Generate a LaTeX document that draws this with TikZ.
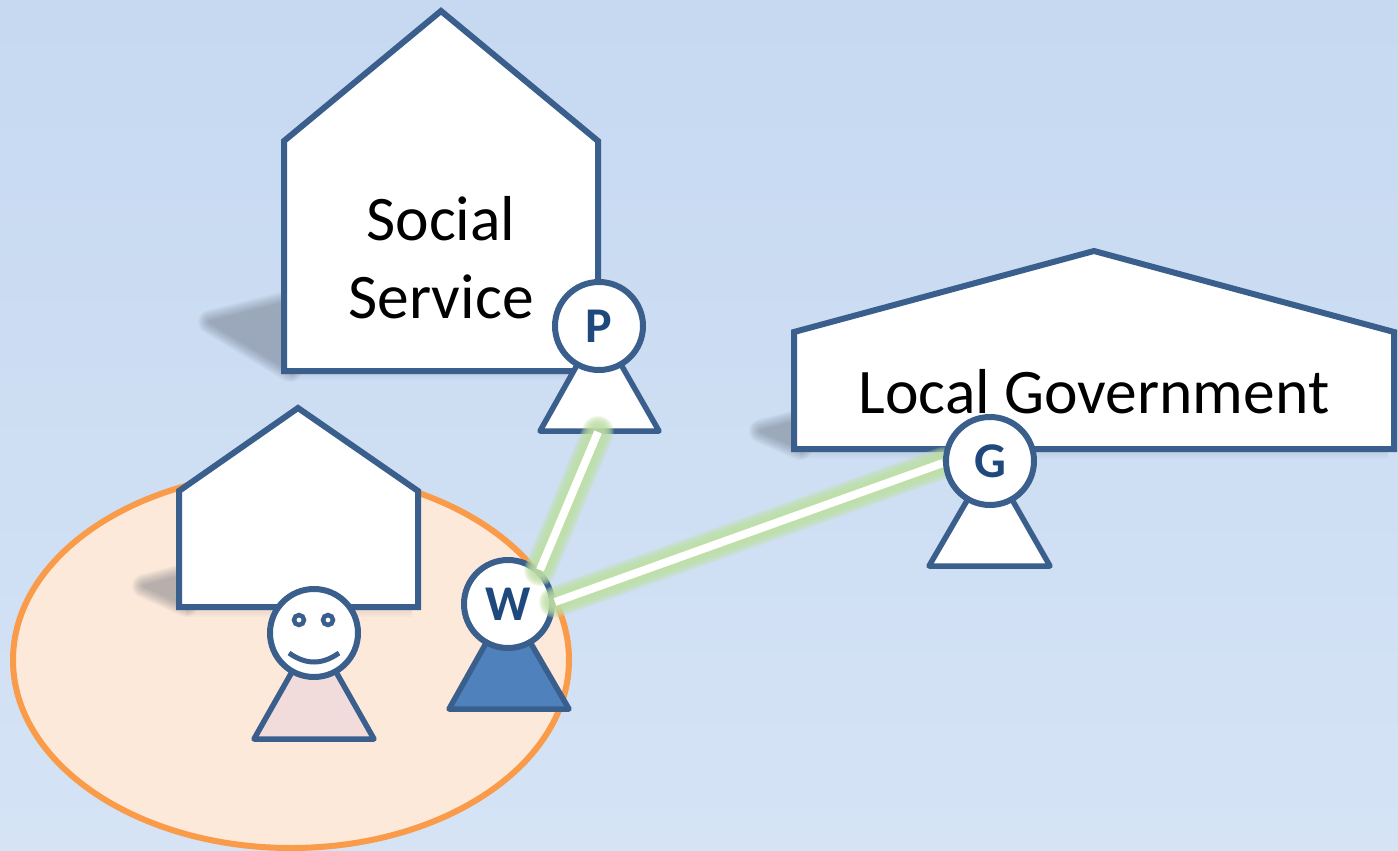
\documentclass[tikz,border=0pt]{standalone}
\usepackage{fontspec}
\usetikzlibrary{shapes.geometric}
\setmainfont{Carlito}
\definecolor{edge}{HTML}{3A5F8C}
\definecolor{ink}{HTML}{1F497D}
\definecolor{orangeedge}{HTML}{F99B48}
\definecolor{orangefill}{HTML}{FDE9DA}
\definecolor{glow}{HTML}{BEDFA4}
\definecolor{bgtop}{HTML}{C6D9F1}
\definecolor{bgbot}{HTML}{D5E3F5}
\definecolor{bodypink}{HTML}{F2DCDB}
\definecolor{bluebody}{HTML}{4F81BD}
\definecolor{shadowtone}{HTML}{606978}
\tikzset{
  house/.style={draw=edge,line width=6pt,fill=white,miter limit=10},
  body/.style={draw=edge,line width=5.5pt,line join=round,fill=white},
  head/.style={circle,draw=edge,line width=6pt,fill=white,minimum size=88pt,inner sep=0pt,
    text=ink,font=\fontsize{50}{50}\selectfont\bfseries},
  label/.style={align=center,text=black,inner sep=0pt,font=\fontsize{63.5}{78}\selectfont},
  glowline/.style={draw=glow,line cap=round},
  link/.style={draw=white,line width=8pt}
}
\newcommand{\softshadow}[1]{%
  \foreach \w in {24,22,20,18,16,14,12,10,8,6,4,2}{%
    \begin{scope}[transparency group,opacity=0.042]
    \path[fill=shadowtone,draw=shadowtone,line width=\w pt,line join=round] #1;
    \end{scope}}}
\newcommand{\softedge}[1]{%
  \foreach \w in {24,20,16,12,8}{%
    \draw[draw=shadowtone,opacity=0.03,line width=\w pt] #1;}}
\begin{document}
\begin{tikzpicture}[x=1pt,y=-1pt]
\useasboundingbox (0,0) rectangle (1398,851);
\path[top color=bgtop,bottom color=bgbot] (0,0) rectangle (1398,851);

% social service
\softshadow{(210,322) -- (290,302) -- (290,370) -- cycle}
\softedge{(290,368) -- (590,368)}
\draw[house] (284,371) -- (284,141) -- (441,11) -- (598,141) -- (598,371) -- cycle;
\node[label] (social) at (441,258) {Social\\Service};

% local government
\softshadow{(761,431) -- (800,421) -- (800,448) -- cycle}
\softedge{(800,447) -- (1388,447)}
\draw[house] (794,449) -- (794,332) -- (1094,251) -- (1394,332) -- (1394,449) -- cycle;
\node[label] (gov) at (1094,392) {Local Government};

% client's home
\node[draw=orangeedge,line width=6pt,fill=orangefill,ellipse,minimum width=556pt,minimum height=376pt,inner sep=0pt] (area) at (291,660) {};
\softshadow{(144,586) -- (186,575) -- (186,605) -- cycle}
\softedge{(186,605) -- (412,605)}
\draw[house] (179,607) -- (179,491) -- (298,408) -- (418,491) -- (418,607) -- cycle;

% persons
\draw[body] (599,326) -- (659,431) -- (540,431) -- cycle;
\node[head] (P) at (599,326) {P};
\draw[body,fill=bodypink] (314,633) -- (374,739) -- (254,739) -- cycle;
\node[head] (C) at (314,633) {};
\fill[white,draw=edge,line width=4.5pt] (299,620) circle (5pt);
\fill[white,draw=edge,line width=4.5pt] (328,620) circle (5pt);
\draw[edge,line width=5pt] (289,653) .. controls (306,665) and (322,665) .. (339,653);
\draw[body,fill=bluebody] (508,604) -- (569,709) -- (449,709) -- cycle;
\node[head] (W) at (508,604) {W};

% links
\coordinate (Pend) at (598,432);
\coordinate (Wp) at (540,570);
\coordinate (Wg) at (555,602);
\coordinate (Gend) at (943,463);
\foreach \w in {32,30,28,26,24,22,20,18,16,14,12}{
  \draw[glowline,line width=\w pt,opacity=0.2] (Wp) -- (Pend);
  \draw[glowline,line width=\w pt,opacity=0.2] (Wg) -- (Gend);
}
\draw[link] (Wp) -- (Pend);
\draw[link] (Wg) -- (Gend);

\draw[body] (990,461) -- (1050,566) -- (929,566) -- cycle;
\node[head] (G) at (990,461) {G};
\end{tikzpicture}
\end{document}
